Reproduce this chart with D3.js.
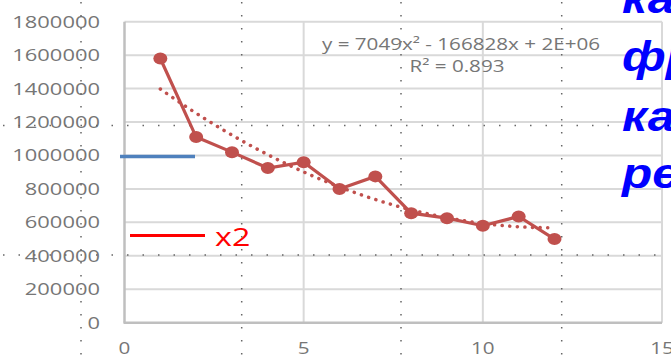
<!DOCTYPE html>
<html><head><meta charset="utf-8">
<script src="https://cdn.jsdelivr.net/npm/d3@7"></script>
<style>body{margin:0;background:#fff;overflow:hidden}svg{display:block}</style>
</head><body>
<script>
// ---- data ----
const xValues = [1,2,3,4,5,6,7,8,9,10,11,12];
const yValues = [1580000,1110000,1020000,925000,960000,800000,875000,655000,625000,580000,635000,500000];
const yTicks = [0,200000,400000,600000,800000,1000000,1200000,1400000,1600000,1800000];
const xTicks = [0,5,10,15];
const equationLines = ["y = 7049x² - 166828x + 2E+06", "R² = 0.893"];
const sideText = ["как","фра","как","рез"];
const legendLabel = "x2";

const W=671,H=359;
const svg=d3.select("body").append("svg").attr("width",W).attr("height",H);
const x=d3.scaleLinear().domain([0,15]).range([124.5,662]);
const y=d3.scaleLinear().domain([0,1800000]).range([322.7,21.7]);
const SX=1.29;
const gray="#767676";

// gridlines
svg.append("g").selectAll("line").data(yTicks.filter(d=>d>0)).join("line")
  .attr("x1",x(0)).attr("x2",x(15)).attr("y1",d=>y(d)).attr("y2",d=>y(d))
  .attr("stroke","#d9d9d9").attr("stroke-width",2);
svg.append("g").selectAll("line").data(xTicks.filter(d=>d>0)).join("line")
  .attr("x1",d=>x(d)).attr("x2",d=>x(d)).attr("y1",y(0)).attr("y2",y(1800000))
  .attr("stroke","#d9d9d9").attr("stroke-width",2);
// axes lines
svg.append("line").attr("x1",x(0)).attr("x2",x(0)).attr("y1",y(0)).attr("y2",y(1800000)).attr("stroke","#bfbfbf").attr("stroke-width",2.5);
svg.append("line").attr("x1",x(0)-1).attr("x2",x(15)).attr("y1",y(0)).attr("y2",y(0)).attr("stroke","#bfbfbf").attr("stroke-width",2.5);

// tick labels
svg.append("g").selectAll("text").data(yTicks).join("text")
  .attr("transform",d=>`translate(100,${y(d)+6}) scale(${SX},1)`)
  .attr("text-anchor","end").attr("font-family","Open Sans").attr("font-weight",500).attr("font-size",17).attr("fill",gray)
  .text(d=>d);
svg.append("g").selectAll("text").data(xTicks).join("text")
  .attr("transform",d=>`translate(${x(d)},354) scale(${SX},1)`)
  .attr("text-anchor","middle").attr("font-family","Open Sans").attr("font-weight",500).attr("font-size",16).attr("fill",gray)
  .text(d=>d);

// guides (dotted)
const guideV=[81,241.7,401,561.7];
svg.append("g").selectAll("line").data(guideV).join("line")
  .attr("x1",d=>d).attr("x2",d=>d).attr("y1",2).attr("y2",H)
  .attr("stroke","#666").attr("stroke-width",1.5).attr("stroke-dasharray","1.5 11.5");
svg.append("line").attr("x1",3).attr("x2",613).attr("y1",125.5).attr("y2",125.5)
  .attr("stroke","#666").attr("stroke-width",1.5).attr("stroke-dasharray","1.5 14");
svg.append("line").attr("x1",3).attr("x2",660).attr("y1",255).attr("y2",255)
  .attr("stroke","#666").attr("stroke-width",1.5).attr("stroke-dasharray","1.5 14");

// quadratic least squares fit from data
function fitQuad(xs,ys){
  let S=[0,0,0,0,0],T=[0,0,0];
  xs.forEach((xi,i)=>{let p=1;for(let k=0;k<5;k++){S[k]+=p;if(k<3)T[k]+=p*ys[i];p*=xi;}});
  const A=[[S[0],S[1],S[2],T[0]],[S[1],S[2],S[3],T[1]],[S[2],S[3],S[4],T[2]]];
  for(let i=0;i<3;i++){for(let j=i+1;j<3;j++){const f=A[j][i]/A[i][i];for(let k=i;k<4;k++)A[j][k]-=f*A[i][k];}}
  const c=[0,0,0];for(let i=2;i>=0;i--){let s=A[i][3];for(let k=i+1;k<3;k++)s-=A[i][k]*c[k];c[i]=s/A[i][i];}
  return c;
}
const c=fitQuad(xValues,yValues);
const trend=d3.range(xValues[0],xValues[xValues.length-1]+0.001,0.1).map(t=>[t,c[0]+c[1]*t+c[2]*t*t]);
svg.append("path").datum(trend)
  .attr("d",d3.line().x(d=>x(d[0])).y(d=>y(d[1])))
  .attr("fill","none").attr("stroke","#C0504D").attr("stroke-width",3.5)
  .attr("stroke-linecap","round").attr("stroke-dasharray","0.1 7.5");

// series
const pts=xValues.map((v,i)=>[v,yValues[i]]);
svg.append("path").datum(pts)
  .attr("d",d3.line().x(d=>x(d[0])).y(d=>y(d[1])))
  .attr("fill","none").attr("stroke","#C0504D").attr("stroke-width",3.2);
svg.append("g").selectAll("ellipse").data(pts).join("ellipse")
  .attr("cx",d=>x(d[0])).attr("cy",d=>y(d[1])).attr("rx",7).attr("ry",6)
  .attr("fill","#C0504D");

// equation
svg.append("text").attr("transform",`translate(461,50) scale(${SX},1)`).attr("text-anchor","middle")
  .attr("font-family","Open Sans").attr("font-weight",500).attr("font-size",16).attr("fill",gray).text(equationLines[0]);
svg.append("text").attr("transform",`translate(457,72) scale(${SX},1)`).attr("text-anchor","middle")
  .attr("font-family","Open Sans").attr("font-weight",500).attr("font-size",16).attr("fill",gray).text(equationLines[1]);

// overlay shapes
svg.append("line").attr("x1",120).attr("x2",195).attr("y1",156.5).attr("y2",156.5).attr("stroke","#4F81BD").attr("stroke-width",3.5);
svg.append("line").attr("x1",130).attr("x2",205).attr("y1",235.5).attr("y2",235.5).attr("stroke","#FF0000").attr("stroke-width",3.2);
svg.append("text").attr("transform",`translate(215,246) scale(${SX},1)`)
  .attr("font-family","Open Sans").attr("font-weight",500).attr("font-size",25).attr("fill","#FF0000").text(legendLabel);

// side text
const sideY=[13,71,131,188];
svg.append("g").selectAll("text").data(sideText).join("text")
  .attr("transform",(d,i)=>`translate(622,${sideY[i]}) scale(1.15,1)`)
  .attr("font-family","Liberation Sans").attr("font-weight","bold").attr("font-style","italic")
  .attr("font-size",43).attr("fill","#0000FF").text(d=>d);
</script>
</body></html>
